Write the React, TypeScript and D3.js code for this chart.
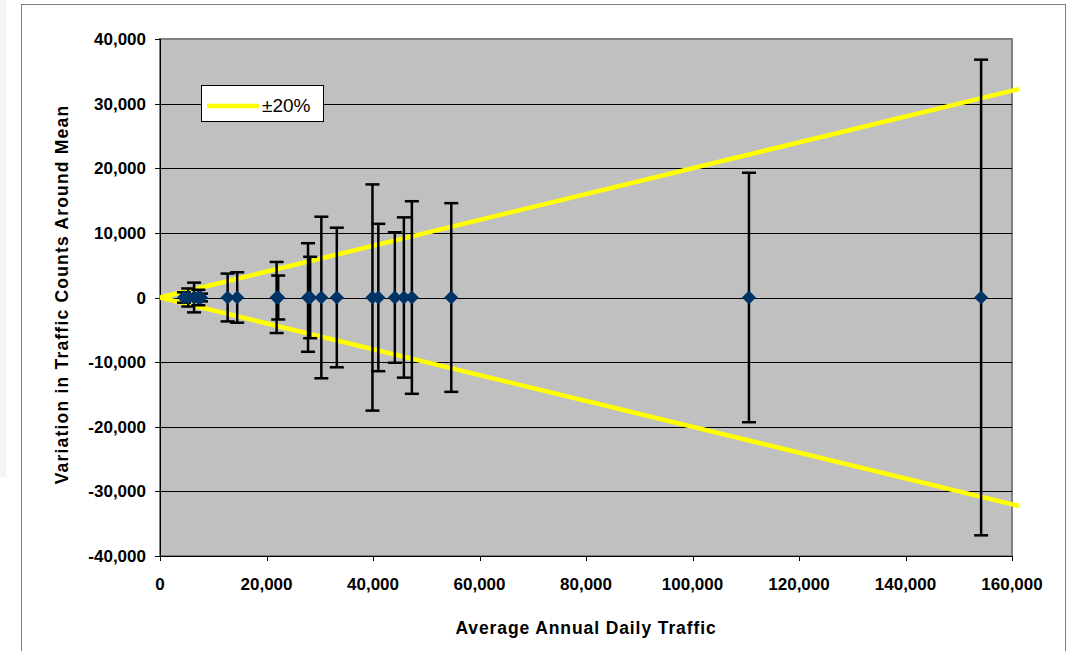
import React from "react";
import * as d3 from "d3";

// average annual daily traffic (x) and the +/- spread of the counts around the mean
const aadt = [
  4500, 5300, 6400, 7200, 7700, 12700, 14500, 21900, 22200, 27800, 28200,
  30300, 33200, 39900, 41000, 44100, 45800, 47300, 54700, 110600, 154200,
];
const spread = [
  800, 1400, 2300, 1200, 600, 3700, 3900, 5500, 3400, 8400, 6300, 12500,
  10800, 17500, 11400, 10100, 12400, 14900, 14600, 19300, 36800,
];

// +/-20% guide lines
const guideX = [0, 161300];
const guidePct = 0.2;

const xTicks = [0, 20000, 40000, 60000, 80000, 100000, 120000, 140000, 160000];
const yTicks = [-40000, -30000, -20000, -10000, 0, 10000, 20000, 30000, 40000];

const width = 1074;
const height = 651;
const plotLeft = 160;
const plotRight = 1012;
const plotTop = 39;
const plotBottom = 556;

const font = "'Liberation Sans', Arial, sans-serif";

export default function App() {
  const x = d3.scaleLinear().domain([0, 160000]).range([plotLeft, plotRight]);
  const y = d3.scaleLinear().domain([-40000, 40000]).range([plotBottom, plotTop]);
  const fmt = (v: number) => d3.format(",")(v).replace("\u2212", "-");

  const line = d3
    .line<number>()
    .x((d) => x(d))
    .y((d) => y(d * guidePct));
  const lineNeg = d3
    .line<number>()
    .x((d) => x(d))
    .y((d) => y(-d * guidePct));

  const diamond = d3.symbol().type(d3.symbolDiamond2).size(125)();
  const capW = 7;

  return (
    <svg
      width={width}
      height={height}
      style={{ position: "absolute", left: 0, top: 0, background: "#fff" }}
    >
      {/* page bits around the chart */}
      <rect x={0} y={0} width={6} height={477} fill="#f4f4f4" />
      <rect x={21.5} y={4.5} width={1044} height={660} fill="#fff" stroke="#808080" />

      {/* plot area */}
      <rect
        x={plotLeft}
        y={plotTop}
        width={plotRight - plotLeft}
        height={plotBottom - plotTop}
        fill="#c0c0c0"
        stroke="#808080"
        strokeWidth={2}
      />

      {/* gridlines */}
      {yTicks.slice(1, -1).map((t) => (
        <line
          key={t}
          x1={plotLeft}
          x2={plotRight}
          y1={Math.round(y(t)) + 0.5}
          y2={Math.round(y(t)) + 0.5}
          stroke="#000"
          strokeWidth={1}
        />
      ))}

      {/* y axis */}
      <line x1={plotLeft + 0.5} x2={plotLeft + 0.5} y1={plotTop} y2={plotBottom} stroke="#000" />
      {yTicks.map((t) => (
        <g key={t}>
          <line
            x1={plotLeft - 5}
            x2={plotLeft}
            y1={Math.round(y(t)) + 0.5}
            y2={Math.round(y(t)) + 0.5}
            stroke="#000"
          />
          <text
            x={146}
            y={y(t) + 6}
            textAnchor="end"
            fontFamily={font}
            fontWeight="bold"
            fontSize={17}
            fill="#000"
          >
            {fmt(t)}
          </text>
        </g>
      ))}

      {/* x axis */}
      <line x1={plotLeft} x2={plotRight} y1={plotBottom + 0.5} y2={plotBottom + 0.5} stroke="#000" />
      {xTicks.map((t) => (
        <g key={t}>
          <line
            x1={Math.round(x(t)) + 0.5}
            x2={Math.round(x(t)) + 0.5}
            y1={plotBottom}
            y2={plotBottom + 5}
            stroke="#000"
          />
          <text
            x={x(t)}
            y={590}
            textAnchor="middle"
            fontFamily={font}
            fontWeight="bold"
            fontSize={17}
            fill="#000"
          >
            {fmt(t)}
          </text>
        </g>
      ))}

      {/* +/-20% lines */}
      <path d={line(guideX) ?? ""} fill="none" stroke="#ffff00" strokeWidth={4.5} />
      <path d={lineNeg(guideX) ?? ""} fill="none" stroke="#ffff00" strokeWidth={4.5} />

      {/* error bars */}
      {aadt.map((v, i) => {
        const cx = x(v);
        const top = y(spread[i]);
        const bot = y(-spread[i]);
        return (
          <g key={i} stroke="#000" strokeWidth={2.5}>
            <line x1={cx} x2={cx} y1={top} y2={bot} />
            <line x1={cx - capW} x2={cx + capW} y1={top} y2={top} />
            <line x1={cx - capW} x2={cx + capW} y1={bot} y2={bot} />
          </g>
        );
      })}

      {/* points */}
      {aadt.map((v, i) => (
        <path
          key={i}
          d={diamond ?? ""}
          transform={`translate(${x(v)},${y(0)})`}
          fill="#003366"
        />
      ))}

      {/* legend */}
      <rect x={201.5} y={85.5} width={122} height={36} fill="#fff" stroke="#000" />
      <line x1={207} x2={259} y1={106} y2={106} stroke="#ffff00" strokeWidth={4.5} />
      <text x={262} y={112} fontFamily={font} fontSize={19} fill="#000">
        ±20%
      </text>

      {/* axis titles */}
      <text
        x={(plotLeft + plotRight) / 2}
        y={634}
        textAnchor="middle"
        fontFamily={font}
        fontWeight="bold"
        fontSize={17.5}
        letterSpacing={0.9}
        fill="#000"
      >
        Average Annual Daily Traffic
      </text>
      <text
        transform={`translate(68,${(plotTop + plotBottom) / 2 - 3}) rotate(-90)`}
        textAnchor="middle"
        fontFamily={font}
        fontWeight="bold"
        fontSize={17.5}
        letterSpacing={1.2}
        fill="#000"
      >
        Variation in Traffic Counts Around Mean
      </text>
    </svg>
  );
}
